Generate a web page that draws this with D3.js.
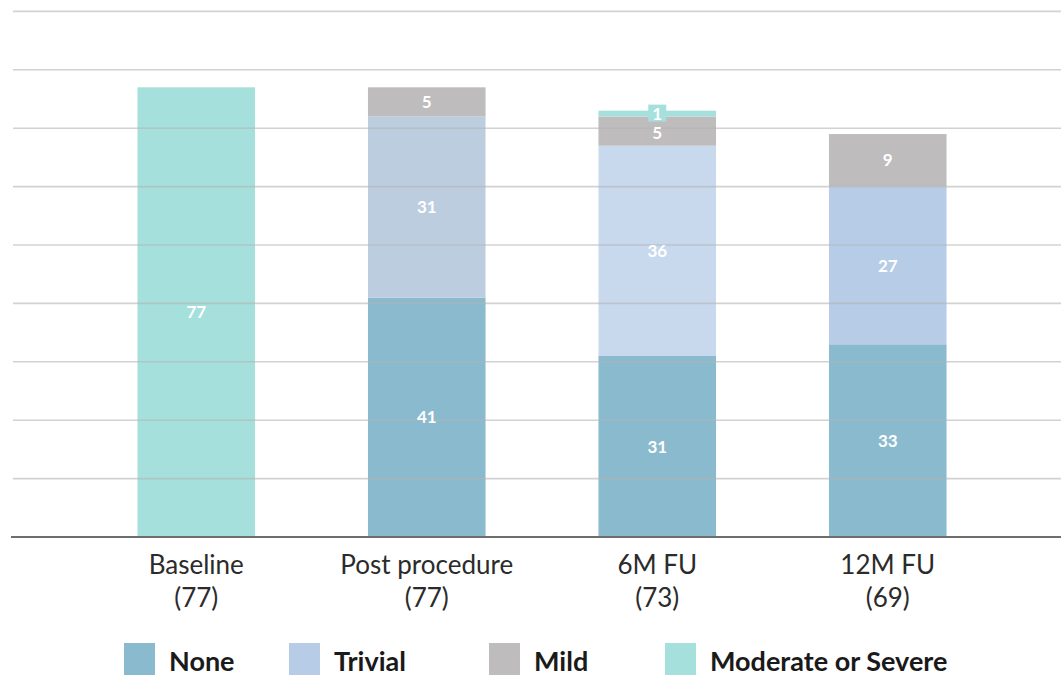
<!DOCTYPE html>
<html><head><meta charset="utf-8">
<script src="https://cdn.jsdelivr.net/npm/d3@7"></script>
<style>body{margin:0;background:#fff;}svg{display:block;font-family:Lato,"Noto Sans",sans-serif;}</style>
</head><body>
<svg id="c" width="1061" height="677"></svg>
<script>
const categories = ["Baseline", "Post procedure", "6M FU", "12M FU"];
const counts = [77, 77, 73, 69];
const series = ["None", "Trivial", "Mild", "Moderate or Severe"];
const none = [0, 41, 31, 33];
const trivial = [0, 31, 36, 27];
const mild = [0, 5, 5, 9];
const modSevere = [77, 0, 1, 0];
const yTicks = [0,10,20,30,40,50,60,70,80,90];

const colors = {"None":"#89bacd","Trivial":"#b6cce7","Mild":"#bebcbd","Moderate or Severe":"#a5e0dc"};
const trivialShades = ["#b6cce7","#bdcde0","#c8d9ee","#b6cce7"];

const svg = d3.select("#c");
const x = d3.scaleBand().domain(categories).range([81,1003]).paddingInner(0.49).paddingOuter(0.245);
const y = d3.scaleLinear().domain([0,90]).range([537,11.4]);

const rows = categories.map((c,i)=>({cat:c, i, "None":none[i], "Trivial":trivial[i], "Mild":mild[i], "Moderate or Severe":modSevere[i]}));
const stack = d3.stack().keys(series)(rows);

const gBars = svg.append("g");
stack.forEach(layer=>{
  gBars.selectAll(null).data(layer.filter(d=>d[1]-d[0]>0)).enter().append("rect")
    .attr("x", d=>x(d.data.cat))
    .attr("width", x.bandwidth())
    .attr("y", d=>y(d[1]))
    .attr("height", d=>y(d[0])-y(d[1]))
    .attr("fill", d=> layer.key==="Trivial" ? trivialShades[d.data.i] : colors[layer.key]);
});

// gridlines over bars
svg.append("g").selectAll("line").data(yTicks.filter(t=>t>0)).enter().append("line")
  .attr("x1",13).attr("x2",1061)
  .attr("y1",d=>y(d)).attr("y2",d=>y(d))
  .attr("stroke","#b4b4b4").attr("stroke-opacity",0.6).attr("stroke-width",1.6);

// axis baseline
svg.append("line").attr("x1",11).attr("x2",1061).attr("y1",y(0)).attr("y2",y(0))
  .attr("stroke","#6e6e6e").attr("stroke-width",2);

// value labels
const gLab = svg.append("g");
stack.forEach(layer=>{
  layer.filter(d=>d[1]-d[0]>0).forEach(d=>{
    const v = d[1]-d[0];
    const cx = x(d.data.cat)+x.bandwidth()/2;
    const cy = (y(d[0])+y(d[1]))/2;
    if (v < 2) {
      gLab.append("rect").attr("x",cx-9).attr("y",cy-9).attr("width",18).attr("height",17)
        .attr("fill",colors[layer.key]);
    }
    gLab.append("text").attr("x",cx).attr("y",cy + (v < 8 && v >= 2 && d[1] < 77 && d.data.i === 2 ? 2 : 0))
      .attr("dy","0.36em").attr("text-anchor","middle")
      .attr("fill","#fff").attr("font-weight",700)
      .attr("font-size",17).text(v);
  });
});

// category labels
const gx = svg.append("g");
categories.forEach((c,i)=>{
  const cx = x(c)+x.bandwidth()/2;
  gx.append("text").attr("x",cx).attr("y",574).attr("text-anchor","middle")
    .attr("font-size",26).attr("fill","#2b2b2b").text(c);
  gx.append("text").attr("x",cx).attr("y",607).attr("text-anchor","middle")
    .attr("font-size",26).attr("fill","#2b2b2b").text("("+counts[i]+")");
});

// legend
const legX = [124, 289, 489, 665];
const gl = svg.append("g");
series.forEach((s,i)=>{
  gl.append("rect").attr("x",legX[i]).attr("y",643).attr("width",31).attr("height",32).attr("fill",colors[s]);
  gl.append("text").attr("x",legX[i]+45).attr("y",671).attr("font-size",27).attr("font-weight",700)
    .attr("fill","#1a1a1a").text(s);
});
</script>
</body></html>
